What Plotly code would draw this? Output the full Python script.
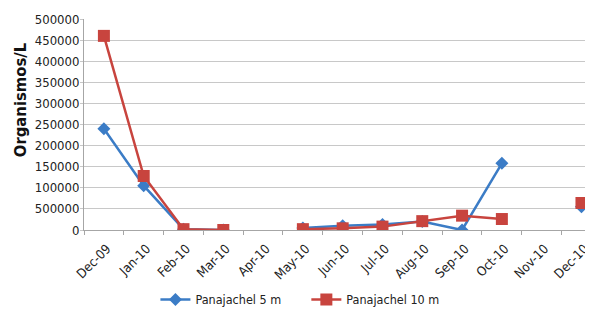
import plotly.graph_objects as go

months = ["Dec-09", "Jan-10", "Feb-10", "Mar-10", "Apr-10", "May-10", "Jun-10",
          "Jul-10", "Aug-10", "Sep-10", "Oct-10", "Nov-10", "Dec-10"]
pana_5m = [240000, 105000, 2000, 0, None, 5000, 10000, 13000, 20000, 0, 158000, None, 55000]
pana_10m = [460000, 128000, 2000, 0, None, 2000, 4000, 8000, 21000, 34000, 26000, None, 64000]

y_tickvals = [0, 50000, 100000, 150000, 200000, 250000, 300000, 350000, 400000, 450000, 500000]
y_ticktext = ["0", "500000", "100000", "150000", "200000", "250000", "300000",
              "350000", "400000", "450000", "500000"]
y_title = "Organismos/L"

FONT = "DejaVu Sans Condensed, Liberation Sans Narrow, sans-serif"
BLUE = "#3b7cc6"
RED = "#c8443e"

# page body has an 8px default margin; figure is sized to the visible area
W, H = 585, 306
ML, MT, MB = 76, 11, 84

fig = go.Figure()
fig.add_trace(go.Scatter(
    x=months, y=pana_5m, name="Panajachel 5 m", mode="lines+markers",
    line=dict(color=BLUE, width=2.5), marker=dict(symbol="diamond", size=10, color=BLUE),
    connectgaps=False, legend="legend"))
fig.add_trace(go.Scatter(
    x=months, y=pana_10m, name="Panajachel 10 m", mode="lines+markers",
    line=dict(color=RED, width=2.5), marker=dict(symbol="square", size=12, color=RED),
    connectgaps=False, legend="legend2"))

leg_common = dict(orientation="h", xanchor="left", xref="container",
                  y=0.046, yanchor="middle", yref="container",
                  font=dict(size=12.5, family=FONT, color="#222222"),
                  itemwidth=30, bgcolor="rgba(0,0,0,0)")

fig.update_layout(
    width=W, height=H,
    margin=dict(l=ML, r=0, t=MT, b=MB),
    paper_bgcolor="white", plot_bgcolor="white",
    font=dict(family=FONT, size=13, color="#222222"),
    showlegend=True,
    legend=dict(x=0.252, **leg_common),
    legend2=dict(x=0.510, **leg_common),
    xaxis=dict(type="category", categoryorder="array", categoryarray=months,
               range=[-0.5, 12.29], tickangle=-45, tickson="boundaries",
               ticks="outside", ticklen=4, tickcolor="#a6a6a6",
               showline=True, linecolor="#a6a6a6", linewidth=1,
               ticklabelstandoff=5, ticklabelshift=3,
               showgrid=False, tickfont=dict(size=13, family=FONT), automargin=False),
    yaxis=dict(range=[0, 500000], tickvals=y_tickvals, ticktext=y_ticktext,
               showgrid=True, gridcolor="#c8c8c8", gridwidth=1,
               showline=True, linecolor="#a6a6a6", linewidth=1,
               ticks="outside", ticklen=3, tickcolor="#c8c8c8",
               ticklabelstandoff=-2,
               zeroline=False, tickfont=dict(size=13, family=FONT),
               automargin=False),
    annotations=[dict(text="<b>" + y_title + "</b>", textangle=-90,
                      xref="paper", yref="paper", x=(12 - ML) / (W - ML), y=0.615,
                      xanchor="center", yanchor="middle", showarrow=False,
                      font=dict(size=16.5, family=FONT, color="#111111"))],
)

fig.write_html("out.html")
